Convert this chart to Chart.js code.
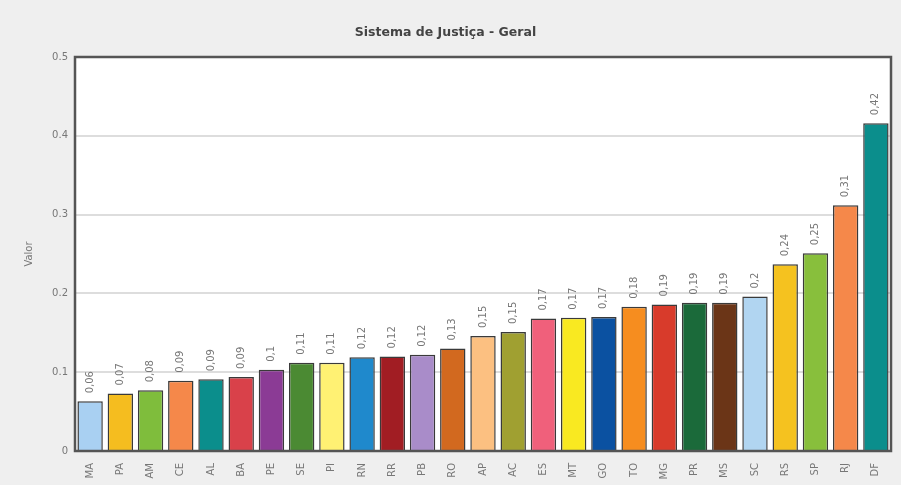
<!DOCTYPE html>
<html>
<head>
<meta charset="utf-8">
<script src="https://cdn.jsdelivr.net/npm/chart.js@4/dist/chart.umd.min.js"></script>
<style>
html,body{margin:0;padding:0;background:#efefef;}
#wrap{width:901px;height:485px;position:relative;}
</style>
</head>
<body>
<div id="wrap"><canvas id="c" width="901" height="485"></canvas></div>
<script>
const categories = ['MA','PA','AM','CE','AL','BA','PE','SE','PI','RN','RR','PB','RO','AP','AC','ES','MT','GO','TO','MG','PR','MS','SC','RS','SP','RJ','DF'];
const values = [0.063,0.073,0.077,0.089,0.091,0.094,0.103,0.112,0.112,0.119,0.12,0.122,0.13,0.146,0.151,0.168,0.169,0.17,0.183,0.186,0.188,0.188,0.196,0.237,0.251,0.312,0.416];
const barColors = ['#a9d0f2','#f5bd1f','#7fbd3c','#f5884a','#0b8e8c','#d9414a','#8b3b95','#4b8a33','#fff173','#1f89cc','#a11d23','#a98cc9','#d2691f','#fcc081','#a0a031','#f0607b','#f9e921','#0b51a1','#f68d1f','#d83b2b','#1b6a3a','#6b3517','#b1d5f1','#f5c21f','#88bf3c','#f5884a','#0b8e8c'];
const yTicks = [0,0.1,0.2,0.3,0.4,0.5];
const titleText = 'Sistema de Justiça - Geral';
const yTitle = 'Valor';

const fmt = v => Number(v.toFixed(2)).toString().replace('.', ',');

const frame = {
  id:'frame',
  beforeDraw(chart){
    const {ctx, chartArea:a} = chart;
    ctx.save();
    ctx.fillStyle='#ffffff';
    ctx.fillRect(a.left,a.top,a.right-a.left,a.bottom-a.top);
    ctx.restore();
  },
  afterDatasetsDraw(chart){
    const {ctx, chartArea:a} = chart;
    const meta = chart.getDatasetMeta(0);
    ctx.save();
    ctx.fillStyle='#777';
    ctx.font='10px "DejaVu Sans"';
    ctx.textAlign='left';
    ctx.textBaseline='middle';
    meta.data.forEach((bar,i)=>{
      ctx.save();
      ctx.translate(bar.x, bar.y-8);
      ctx.rotate(-Math.PI/2);
      ctx.fillText(fmt(values[i]),0,0);
      ctx.restore();
    });
    ctx.strokeStyle='#555';
    ctx.lineWidth=2.5;
    ctx.strokeRect(a.left,a.top,a.right-a.left,a.bottom-a.top);
    ctx.restore();
  }
};

new Chart(document.getElementById('c'),{
  type:'bar',
  data:{labels:categories,datasets:[{data:values,backgroundColor:barColors,borderColor:'#3a3a3a',borderWidth:1.5,categoryPercentage:0.84,barPercentage:1}]},
  options:{
    responsive:false,animation:false,
    layout:{padding:{left:0,right:10,top:0,bottom:0}},
    plugins:{
      legend:{display:false},tooltip:{enabled:false},
      title:{display:true,text:titleText,color:'#444',font:{family:'"DejaVu Sans"',size:12.5,weight:'bold'},padding:{top:25,bottom:17}}
    },
    scales:{
      x:{grid:{display:false},border:{color:'#555',width:2},
         ticks:{color:'#777',font:{family:'"DejaVu Sans"',size:10},maxRotation:90,minRotation:90,autoSkip:false,padding:4},
         afterFit(s){s.height=34;}},
      y:{min:0,max:0.5,
         afterBuildTicks(s){s.ticks=yTicks.map(v=>({value:v}));},
         grid:{color:'#dddddd',lineWidth:2,drawTicks:false},border:{color:'#555',width:2},
         ticks:{color:'#777',font:{family:'"DejaVu Sans"',size:10},padding:7,callback:v=>String(v)},
         title:{display:true,text:yTitle,color:'#777',font:{family:'"DejaVu Sans"',size:10},padding:{top:23,bottom:0}},
         afterFit(s){s.width=75;}}
    }
  },
  plugins:[frame]
});
</script>
</body>
</html>
